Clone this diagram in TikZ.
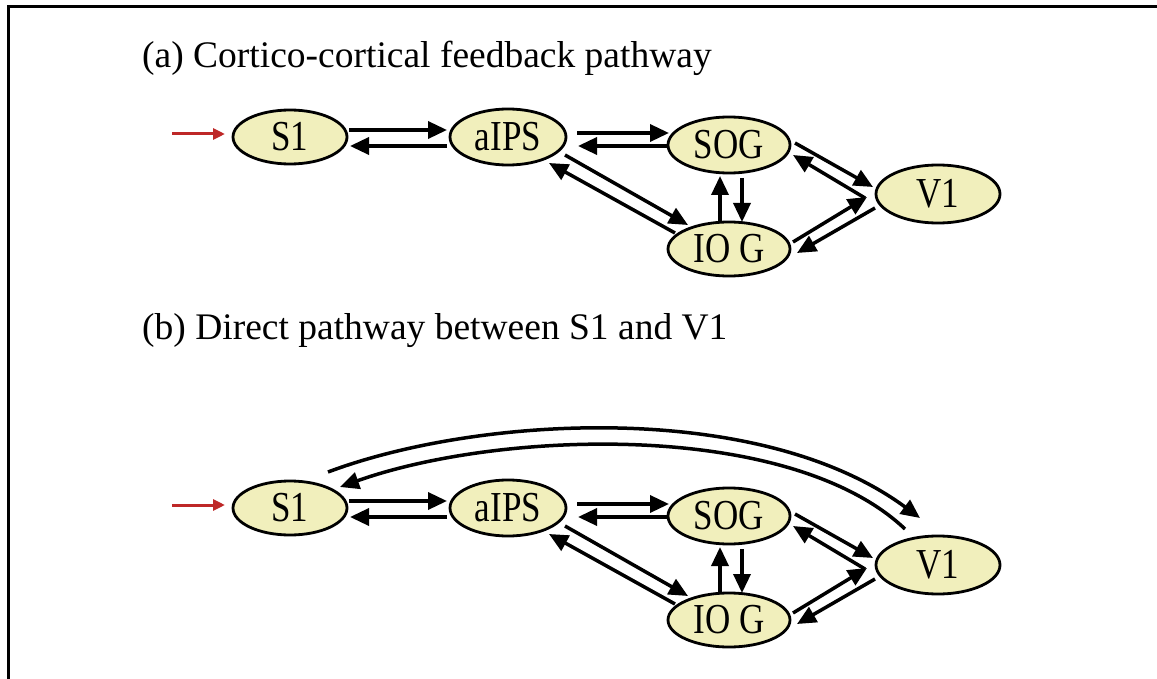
\documentclass[tikz,border=0pt]{standalone}
\usepackage{fontspec}
\usepackage{graphicx}
\setmainfont{Liberation Serif}
\usetikzlibrary{shapes.geometric, arrows.meta, calc}

\definecolor{areafill}{RGB}{241,239,188}
\definecolor{inputred}{RGB}{190,40,40}

\newcommand{\tallish}[1]{\scalebox{1}[1.22]{#1}}

\tikzset{
  area/.style={ellipse, draw, line width=2.8pt, fill=areafill, inner sep=0pt,
    font=\fontsize{35}{35}\selectfont},
  feed/.style={line width=3.5pt, -{Triangle[length=19pt,width=17pt]}},
  input/.style={line width=3pt, draw=inputred,
    -{Triangle[length=12pt,width=11pt,fill=inputred]}},
  heading/.style={anchor=base west, inner sep=0pt, font=\fontsize{37.5}{37.5}\selectfont},
}

% one copy of the network; #1 = name suffix, #2 = vertical offset
\newcommand{\pathwaynet}[2]{%
  \node[area, minimum width=114pt, minimum height=54pt] (S1#1)   at (290,{137+#2}) {\tallish{S1}};
  \node[area, minimum width=116pt, minimum height=56pt] (aIPS#1) at (508,{137+#2}) {\tallish{aIPS}};
  \node[area, minimum width=122pt, minimum height=56pt] (SOG#1)  at (729,{145+#2}) {\tallish{SOG}};
  \node[area, minimum width=124pt, minimum height=58pt] (V1#1)   at (938,{194+#2}) {\tallish{V1}};
  \node[area, minimum width=122pt, minimum height=54pt] (IOG#1)  at (729,{249+#2}) {\tallish{IO G}};
  \coordinate (in#1) at (172,{134+#2});
  \draw[input] (in#1) -- ($(S1#1)+(-65,-3)$);
  % S1 <-> aIPS
  \draw[feed] ($(S1#1)+(59,-7)$) -- ($(aIPS#1)+(-61,-7)$);
  \draw[feed] ($(aIPS#1)+(-61,9)$) -- ($(S1#1)+(60,9)$);
  % aIPS <-> SOG
  \draw[feed] ($(aIPS#1)+(69,-4)$) -- ($(SOG#1)+(-60,-12)$);
  \draw[feed] ($(SOG#1)+(-61,1)$) -- ($(aIPS#1)+(70,9)$);
  % aIPS <-> IOG
  \draw[feed] ($(aIPS#1)+(57,18)$) -- ($(IOG#1)+(-41,-24)$);
  \draw[feed] ($(IOG#1)+(-54,-16)$) -- ($(aIPS#1)+(41,26)$);
  % SOG <-> IOG
  \draw[feed] ($(IOG#1)+(-9,-28)$) -- ($(SOG#1)+(-9,31)$);
  \draw[feed] ($(SOG#1)+(13,33)$) -- ($(IOG#1)+(13,-27)$);
  % SOG <-> V1
  \draw[feed] ($(SOG#1)+(66,-2)$) -- ($(V1#1)+(-65,-7)$);
  \draw[feed] ($(V1#1)+(-73,4)$) -- ($(SOG#1)+(64,10)$);
  % IOG <-> V1
  \draw[feed] ($(IOG#1)+(64,-7)$) -- ($(V1#1)+(-71,3)$);
  \draw[feed] ($(V1#1)+(-63,14)$) -- ($(IOG#1)+(68,4)$);
}

\begin{document}
\begin{tikzpicture}[x=1pt, y=-1pt]
  \useasboundingbox[fill=white] (0,0) rectangle (1157,679);

  % frame
  \draw[line width=3pt] (8,679) -- (8,7) -- (1157,7);

  % panel (a)
  \node[heading] (ta) at (142,68) {(a) Cortico-cortical feedback pathway};
  \pathwaynet{a}{0}

  % panel (b)
  \node[heading] (tb) at (142,339) {(b) Direct pathway between S1 and V1};
  \pathwaynet{b}{371}

  % direct S1 <-> V1 connections
  \draw[feed] ($(S1b)+(38,-36)$) .. controls (480,415) and (760,400) .. ($(V1b)+(-18,-47)$);
  \draw[feed] ($(V1b)+(-33,-36)$) .. controls (790,420) and (500,430) .. ($(S1b)+(50,-21)$);
\end{tikzpicture}
\end{document}
